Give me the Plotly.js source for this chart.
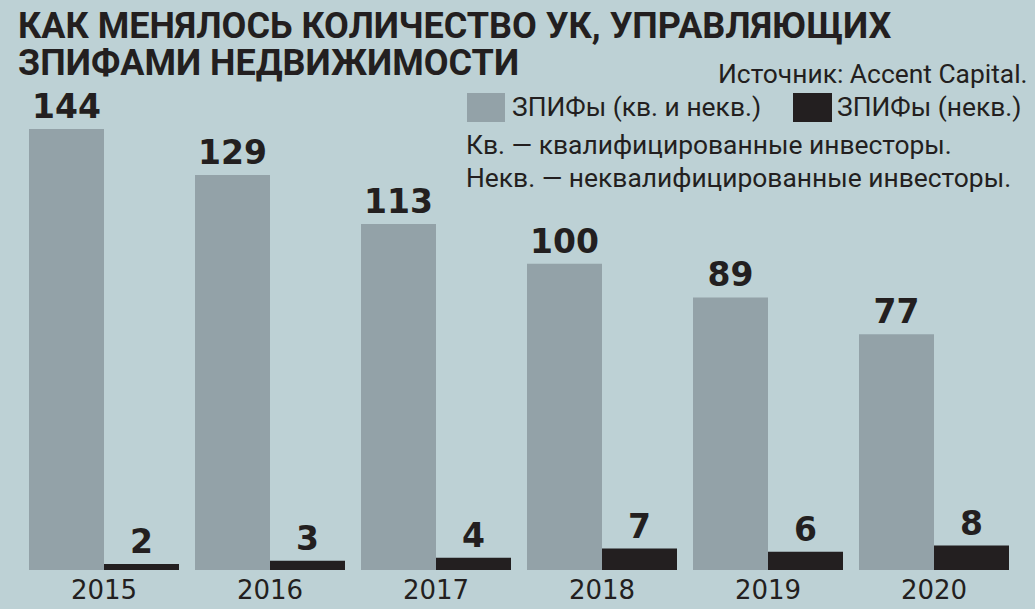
<!DOCTYPE html>
<html><head><meta charset="utf-8">
<script src="https://cdn.plot.ly/plotly-3.0.1.min.js"></script>
<style>html,body{margin:0;padding:0;background:#bdd1d5;}#c{width:1035px;height:609px;}</style>
</head><body><div id="c"></div>
<script>
const years = ['2015','2016','2017','2018','2019','2020'];
const allFunds = [144, 129, 113, 100, 89, 77];
const nonQualFunds = [2, 3, 4, 7, 6, 8];
const seriesNames = ['ЗПИФы (кв. и некв.)', 'ЗПИФы (некв.)'];
const titleLines = ['КАК МЕНЯЛОСЬ КОЛИЧЕСТВО УК, УПРАВЛЯЮЩИХ', 'ЗПИФАМИ НЕДВИЖИМОСТИ'];
const sourceText = 'Источник: Accent Capital.';
const notes = ['Кв. — квалифицированные инвесторы.', 'Некв. — неквалифицированные инвесторы.'];

const BG = '#bdd1d5', GRAY = '#93a2a8', DARK = '#231f20';
const numFont = {family: '"DejaVu Sans", sans-serif', size: 33, color: DARK, weight: 700};
const txtFont = {family: 'Roboto, "Liberation Sans", sans-serif', size: 26.4, color: DARK};

const traces = [
  {type: 'bar', x: years, y: allFunds, name: seriesNames[0], marker: {color: GRAY},
   text: allFunds.map(String), textposition: 'outside', textfont: numFont, cliponaxis: false, hoverinfo: 'none'},
  {type: 'bar', x: years, y: nonQualFunds, name: seriesNames[1], marker: {color: DARK},
   text: nonQualFunds.map(String), textposition: 'outside', textfont: numFont, cliponaxis: false, hoverinfo: 'none'}
];

const W = 1035, H = 609;
const M = {l: 21, r: 18, t: 80, b: 39};
const PW = W - M.l - M.r, PH = H - M.t - M.b;
function px(x){return (x - M.l) / PW;}
function py(y){return (H - M.b - y) / PH;}

const titleFont = {family: 'Roboto, "Liberation Sans", sans-serif', size: 36, color: DARK, weight: 700};
const annotations = [
  {xref: 'paper', yref: 'paper', x: px(16), y: py(26), xanchor: 'left', yanchor: 'middle', showarrow: false,
   text: titleLines[0], font: titleFont},
  {xref: 'paper', yref: 'paper', x: px(16), y: py(63), xanchor: 'left', yanchor: 'middle', showarrow: false,
   text: titleLines[1], font: titleFont},
  {xref: 'paper', yref: 'paper', x: px(1030), y: py(74), xanchor: 'right', yanchor: 'middle', showarrow: false,
   text: sourceText, font: txtFont},
  {xref: 'paper', yref: 'paper', x: px(510), y: py(107), xanchor: 'left', yanchor: 'middle', showarrow: false,
   text: seriesNames[0], font: txtFont},
  {xref: 'paper', yref: 'paper', x: px(835), y: py(107), xanchor: 'left', yanchor: 'middle', showarrow: false,
   text: seriesNames[1], font: txtFont},
  {xref: 'paper', yref: 'paper', x: px(464), y: py(145), xanchor: 'left', yanchor: 'middle', showarrow: false,
   text: notes[0], font: txtFont},
  {xref: 'paper', yref: 'paper', x: px(464), y: py(178), xanchor: 'left', yanchor: 'middle', showarrow: false,
   text: notes[1], font: txtFont}
];

const shapes = [
  {type: 'rect', xref: 'paper', yref: 'paper', x0: px(467), x1: px(505), y0: py(122), y1: py(93), fillcolor: GRAY, line: {width: 0}},
  {type: 'rect', xref: 'paper', yref: 'paper', x0: px(793), x1: px(832), y0: py(122), y1: py(93), fillcolor: DARK, line: {width: 0}}
];

const layout = {
  width: W, height: H,
  paper_bgcolor: BG, plot_bgcolor: BG,
  margin: {l: M.l, r: M.r, t: M.t, b: M.b, pad: 0},
  barmode: 'group', bargap: 0.0964, bargroupgap: 0,
  showlegend: false,
  xaxis: {type: 'category', range: [-0.5, 5.5], showgrid: false, zeroline: false, showline: false,
          ticks: '', tickfont: {family: '"DejaVu Sans", sans-serif', size: 26, color: DARK}, ticklabelstandoff: 2},
  yaxis: {range: [0, 160], visible: false, showgrid: false, zeroline: false},
  annotations: annotations, shapes: shapes
};

Plotly.newPlot('c', traces, layout, {displayModeBar: false, staticPlot: true});
</script>
</body></html>
